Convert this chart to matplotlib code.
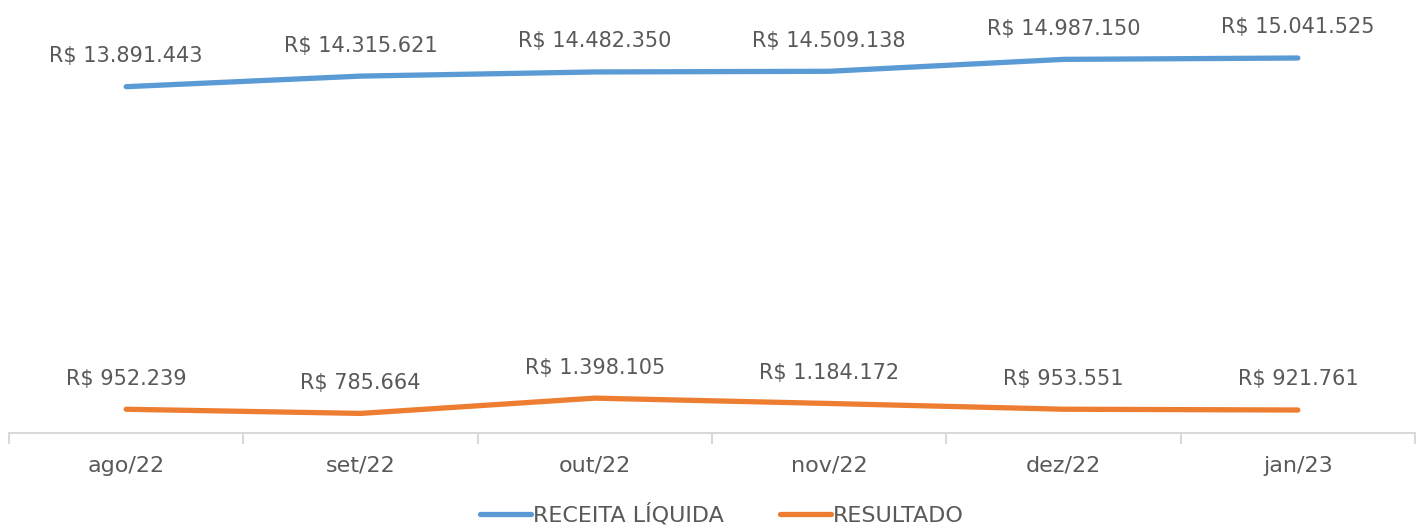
import numpy as np
import matplotlib.pyplot as plt

# dados
meses = ["ago/22", "set/22", "out/22", "nov/22", "dez/22", "jan/23"]
receita = [13891443, 14315621, 14482350, 14509138, 14987150, 15041525]
resultado = [952239, 785664, 1398105, 1184172, 953551, 921761]

azul = "#5B9BD5"
laranja = "#ED7D31"
cinza = "#595959"

def fmt(v):
    return "R$ " + f"{v:,}".replace(",", ".")

plt.rcParams['font.family'] = ['DejaVu Sans']

fig = plt.figure(figsize=(14.21, 5.29), dpi=100)
ax = fig.add_axes([9 / 1421, 96 / 529, 1406 / 1421, 433 / 529])

x = np.arange(len(meses))
ax.plot(x, receita, color=azul, lw=3.8, solid_capstyle="round", label="RECEITA LÍQUIDA")
ax.plot(x, resultado, color=laranja, lw=3.8, solid_capstyle="round", label="RESULTADO")

for xi, v in zip(x, receita):
    ax.annotate(fmt(v), (xi, v), xytext=(0, 22), textcoords="offset points",
                ha="center", va="center", fontsize=15, color=cinza)
for xi, v in zip(x, resultado):
    ax.annotate(fmt(v), (xi, v), xytext=(0, 22), textcoords="offset points",
                ha="center", va="center", fontsize=15, color=cinza)

ax.set_xlim(-0.5, len(meses) - 0.5)
ax.set_ylim(0, 433 / 24.93 * 1e6)
ax.set_yticks([])
for s in ["top", "right", "left"]:
    ax.spines[s].set_visible(False)
ax.spines["bottom"].set_color("#D9D9D9")
ax.spines["bottom"].set_linewidth(1.5)

ax.set_xticks(np.arange(-0.5, len(meses), 1.0), minor=False)
ax.set_xticklabels([])
ax.set_xticks(x, minor=True)
ax.set_xticklabels(meses, minor=True)
ax.tick_params(axis="x", which="major", length=8, width=1.5, color="#D9D9D9")
ax.tick_params(axis="x", which="minor", length=0, pad=16.5, labelsize=16, labelcolor=cinza)

fig.legend(loc="lower center", bbox_to_anchor=(0.508, -0.032), ncol=2, frameon=False,
           fontsize=16, labelcolor=cinza, handlelength=2.3, handletextpad=0.1,
           columnspacing=2.5)

fig.savefig("out.png", dpi=100)
